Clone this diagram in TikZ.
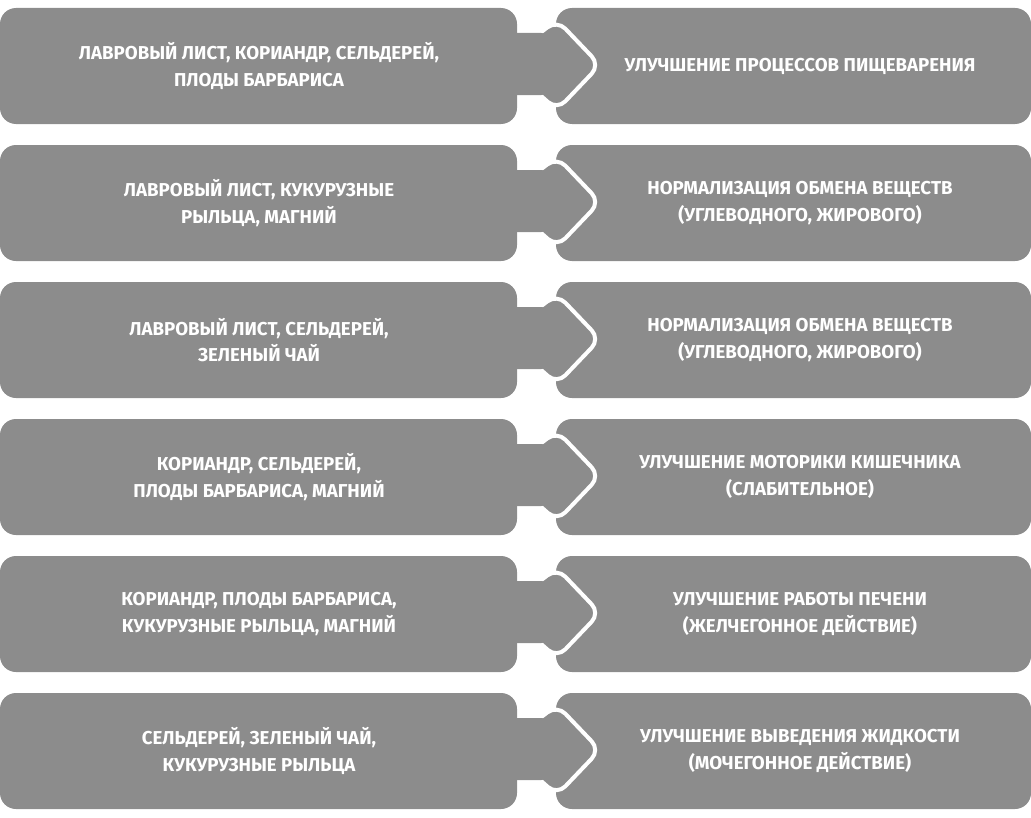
\documentclass[tikz,border=0pt]{standalone}
\usepackage{fontspec}
\setmainfont{Fira Sans}
\definecolor{boxgray}{HTML}{8C8C8C}
\begin{document}
\begin{tikzpicture}[x=0.75pt,y=-0.75pt,
  lbl/.style={text=white,font=\bfseries\fontsize{14}{20}\selectfont,align=center},
  boxfill/.style={fill=boxgray,rounded corners=12}]
\useasboundingbox (0,0) rectangle (1031,817);
\foreach \i/\lt/\rt in {
 0/{ЛАВРОВЫЙ ЛИСТ, КОРИАНДР, СЕЛЬДЕРЕЙ,\\ПЛОДЫ БАРБАРИСА}/{УЛУЧШЕНИЕ ПРОЦЕССОВ ПИЩЕВАРЕНИЯ},
 1/{ЛАВРОВЫЙ ЛИСТ, КУКУРУЗНЫЕ\\РЫЛЬЦА, МАГНИЙ}/{НОРМАЛИЗАЦИЯ ОБМЕНА ВЕЩЕСТВ\\(УГЛЕВОДНОГО, ЖИРОВОГО)},
 2/{ЛАВРОВЫЙ ЛИСТ, СЕЛЬДЕРЕЙ,\\ЗЕЛЕНЫЙ ЧАЙ}/{НОРМАЛИЗАЦИЯ ОБМЕНА ВЕЩЕСТВ\\(УГЛЕВОДНОГО, ЖИРОВОГО)},
 3/{КОРИАНДР, СЕЛЬДЕРЕЙ,\\ПЛОДЫ БАРБАРИСА, МАГНИЙ}/{УЛУЧШЕНИЕ МОТОРИКИ КИШЕЧНИКА\\(СЛАБИТЕЛЬНОЕ)},
 4/{КОРИАНДР, ПЛОДЫ БАРБАРИСА,\\КУКУРУЗНЫЕ РЫЛЬЦА, МАГНИЙ}/{УЛУЧШЕНИЕ РАБОТЫ ПЕЧЕНИ\\(ЖЕЛЧЕГОННОЕ ДЕЙСТВИЕ)},
 5/{СЕЛЬДЕРЕЙ, ЗЕЛЕНЫЙ ЧАЙ,\\КУКУРУЗНЫЕ РЫЛЬЦА}/{УЛУЧШЕНИЕ ВЫВЕДЕНИЯ ЖИДКОСТИ\\(МОЧЕГОННОЕ ДЕЙСТВИЕ)}}{
  \pgfmathsetmacro{\t}{8+137*\i}
  \begin{scope}[yshift={-0.75pt*\t}]
    \fill[boxfill] (0,0) rectangle (517,116);
    \fill[boxfill] (556,0) rectangle (1031,116);
    % chevron with white outline
    \fill[boxgray,draw=white,line width=3pt,rounded corners=9]
      (540,25) -- (557,12) -- (600,57) -- (557,102) -- (540,87);
    % tab joining the left box to the chevron
    \fill[boxgray,rounded corners=8] (505,25) rectangle (552,87);
    \fill[boxgray] (505,28) rectangle (556,84);
    \node[lbl] (l\i) at (259,58) {\lt};
    \node[lbl] (r\i) at (800,58) {\rt};
  \end{scope}
}
\end{tikzpicture}
\end{document}
